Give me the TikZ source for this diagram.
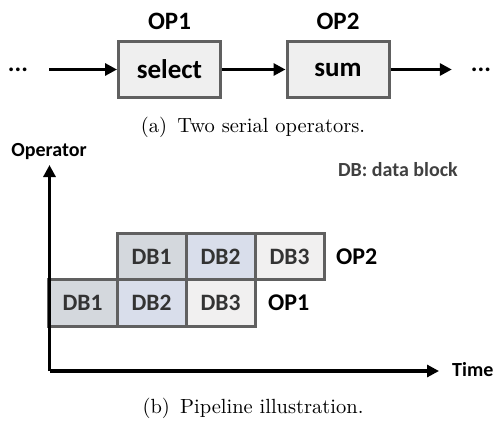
\documentclass[tikz,border=0pt]{standalone}
\usepackage{fontspec}
\newfontfamily\labelfont{Carlito}
\newfontfamily\capfont{lmroman10-regular.otf}
\usetikzlibrary{arrows.meta}

\definecolor{edgegray}{HTML}{606060}
\definecolor{boxfill}{HTML}{EFEFEF}
\definecolor{dbone}{HTML}{D4D8DD}
\definecolor{dbtwo}{HTML}{D9DEEB}
\definecolor{dbthree}{HTML}{F1F0F0}
\definecolor{celltext}{HTML}{333333}
\definecolor{notetext}{HTML}{404040}

\tikzset{
  opbox/.style={draw=edgegray, fill=boxfill, line width=3pt,
    minimum width=102pt, minimum height=56pt, inner sep=0pt,
    font=\labelfont\bfseries\fontsize{27}{30}\selectfont},
  oplabel/.style={font=\labelfont\bfseries\fontsize{25}{28}\selectfont},
  flow/.style={line width=3pt, -{Triangle[length=12pt,width=12pt]}},
  axis/.style={line width=3.5pt, -{Triangle[length=12pt,width=12pt]}},
  cell/.style={draw=edgegray, line width=3pt, minimum width=69pt,
    minimum height=46.5pt, inner sep=0pt, text=celltext,
    font=\labelfont\bfseries\fontsize{23.5}{26}\selectfont},
  rowlabel/.style={anchor=west, inner sep=0pt,
    font=\labelfont\bfseries\fontsize{24}{27}\selectfont},
  axislabel/.style={inner sep=0pt, font=\labelfont\bfseries\fontsize{20}{24}\selectfont},
  caption/.style={inner sep=0pt, font=\capfont\fontsize{20.5}{24}\selectfont},
  dots/.style={inner sep=0pt, font=\labelfont\bfseries\fontsize{25}{28}\selectfont},
}

\begin{document}
\begin{tikzpicture}[x=1pt,y=-1pt]
\useasboundingbox (0,0) rectangle (495,423);

% (a) two operators in series
\node[dots] (din) at (18,70) {...};
\node[opbox] (sel) at (169.5,69.5) {select};
\node[opbox] (sum) at (338,69.5) {sum};
\node[dots] (dout) at (481,70) {...};
\node[oplabel] (op1) at (169.5,21) {OP1};
\node[oplabel] (op2) at (338,21) {OP2};

\draw[flow, shorten <=21pt] (din.east |- sel) -- (sel.west);
\draw[flow] (sel.east) -- (sum.west);
\draw[flow, shorten >=19pt] (sum.east) -- (dout.west |- sum);

\node[caption] (capa) at (253,127) {(a)\enspace Two serial operators.};

% (b) pipelined execution of the data blocks
\node[axislabel] (yl) at (49,152) {Operator};
\node[axislabel, anchor=west] (xl) at (452,370) {Time};
\node[axislabel, text=notetext, anchor=east] (note) at (458,170) {DB: data block};

\node[cell, fill=dbone]   (a1) at (82.5,303) {DB1};
\node[cell, fill=dbtwo]   (a2) at (151.5,303) {DB2};
\node[cell, fill=dbthree] (a3) at (220.5,303) {DB3};
\node[cell, fill=dbone]   (b1) at (151.5,256.5) {DB1};
\node[cell, fill=dbtwo]   (b2) at (220.5,256.5) {DB2};
\node[cell, fill=dbthree] (b3) at (289.5,256.5) {DB3};
\node[rowlabel] (r1) at (268,303) {OP1};
\node[rowlabel] (r2) at (336,256.5) {OP2};

\coordinate (origin) at (49.5,371);
\coordinate (ytip) at (49.5,165);
\coordinate (xtip) at (439,371);
\draw[axis] (origin) -- (ytip);
\draw[axis] (origin) -- (xtip);

\node[caption] (capb) at (253,408) {(b)\enspace Pipeline illustration.};
\end{tikzpicture}
\end{document}
